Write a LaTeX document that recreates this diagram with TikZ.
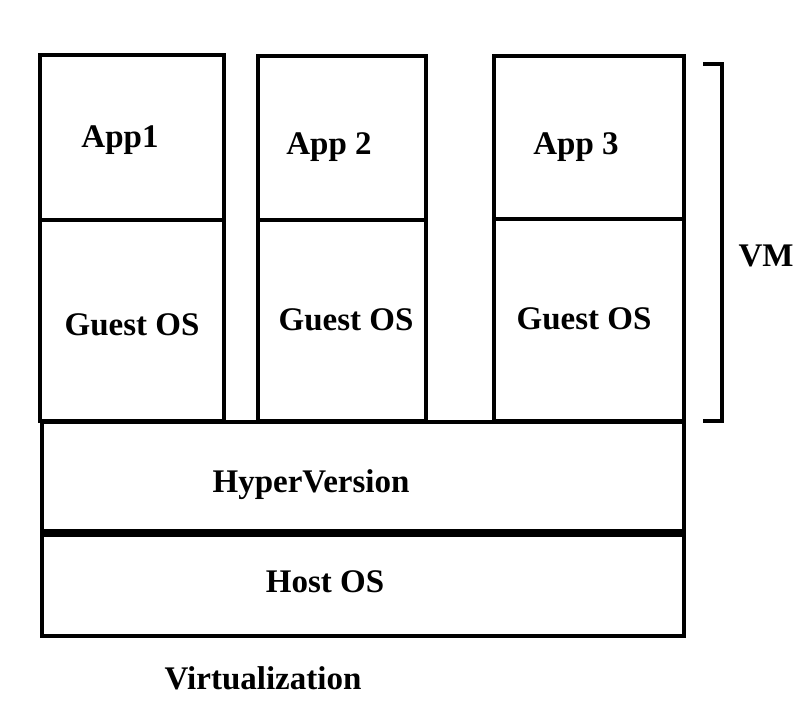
\documentclass[tikz,border=0pt]{standalone}
\usepackage{fontspec}
\setmainfont{Liberation Serif}
\begin{document}
\begin{tikzpicture}[x=1pt,y=-1pt,line width=4pt,
  lbl/.style={font=\fontsize{33}{38}\selectfont\bfseries,inner sep=0pt}]
\useasboundingbox(0,0)rectangle(809,712);
\draw(40,55)rectangle(224,421)(38,220)--(224,220);
\draw(258,56)rectangle(426,421)(258,220)--(426,220);
\draw(494,56)rectangle(684,421)(494,219)--(684,219);
\draw(42,422)rectangle(684,531);
\draw(42,535)rectangle(684,636);
\draw(703,64)--(722,64)--(722,421)--(703,421);
\node[lbl](app1)at(120,140){App1};
\node[lbl](app2)at(329,147){App 2};
\node[lbl](app3)at(576,147){App 3};
\node[lbl](guest1)at(132,325){Guest OS};
\node[lbl](guest2)at(346,320){Guest OS};
\node[lbl](guest3)at(584,319){Guest OS};
\node[lbl](vm)at(766,256){VM};
\node[lbl](hyper)at(311,485){HyperVersion};
\node[lbl](host)at(325,582){Host OS};
\node[lbl](virt)at(263,678){Virtualization};
\end{tikzpicture}
\end{document}
